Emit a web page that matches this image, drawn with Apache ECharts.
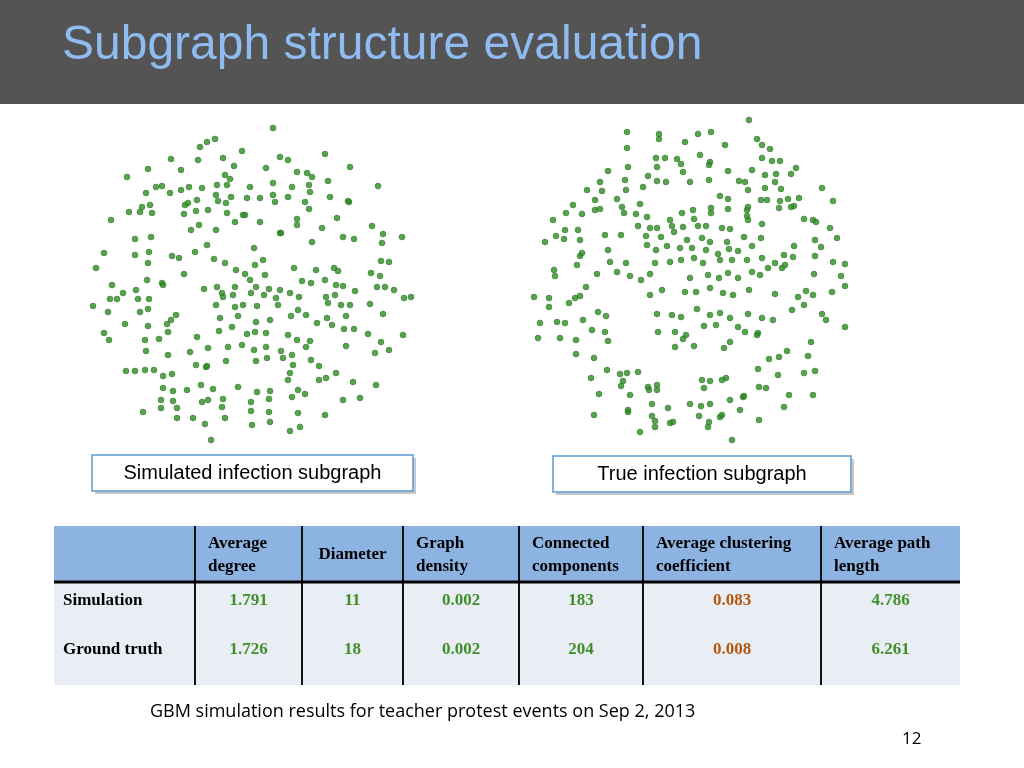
<!DOCTYPE html>
<html><head><meta charset="utf-8">
<script src="https://cdn.jsdelivr.net/npm/echarts@6/dist/echarts.min.js"></script>
<style>html,body{margin:0;padding:0;background:#fff}#main{width:1024px;height:768px}</style>
</head><body><div id="main"></div>
<script>
// node positions, in pixels inside each graph box (350 x 335)
const simNodes = [[193,13],[135,24],[127,27],[120,32],[162,36],[91,44],[118,45],[143,43],[200,42],[208,45],[245,39],[68,54],[101,55],[154,51],[186,53],[217,57],[227,58],[232,62],[270,52],[47,62],[145,60],[150,64],[76,72],[82,71],[90,78],[109,72],[122,73],[137,70],[147,70],[170,72],[193,68],[212,72],[229,70],[248,66],[298,71],[66,78],[101,75],[136,80],[151,82],[180,83],[193,80],[195,87],[208,82],[230,77],[250,82],[269,87],[62,92],[70,90],[105,90],[108,88],[117,85],[138,86],[146,88],[167,83],[225,87],[268,86],[229,94],[49,97],[60,97],[72,98],[104,99],[116,96],[128,95],[147,98],[165,100],[180,107],[217,104],[257,103],[31,105],[163,100],[155,107],[200,118],[217,110],[242,113],[292,111],[303,119],[322,122],[55,124],[71,122],[111,115],[119,110],[136,115],[127,130],[174,133],[201,118],[232,127],[263,122],[274,124],[302,128],[24,138],[55,140],[69,137],[92,141],[99,143],[115,137],[134,144],[145,148],[183,145],[175,150],[301,146],[309,147],[16,153],[68,148],[67,165],[82,168],[104,159],[156,155],[165,159],[170,165],[185,160],[214,153],[236,155],[254,153],[258,156],[291,158],[300,161],[32,170],[56,175],[83,170],[124,174],[137,172],[142,178],[155,172],[176,172],[189,174],[200,175],[222,166],[231,168],[245,165],[256,170],[263,171],[297,172],[305,172],[314,175],[43,178],[30,184],[37,184],[58,184],[69,184],[143,182],[153,180],[171,178],[184,180],[196,183],[210,178],[219,182],[246,182],[255,180],[275,176],[290,189],[324,183],[331,182],[13,191],[28,197],[60,197],[68,194],[136,190],[155,192],[163,190],[177,191],[198,190],[218,195],[248,188],[261,190],[270,190],[303,199],[45,209],[68,211],[87,209],[91,205],[96,200],[140,203],[158,201],[176,207],[190,205],[211,201],[226,200],[237,208],[247,203],[266,201],[252,210],[323,220],[24,218],[29,225],[65,225],[79,224],[88,217],[117,222],[139,216],[152,212],[167,219],[175,217],[186,218],[208,220],[217,225],[230,226],[264,214],[274,214],[288,219],[301,227],[66,236],[110,237],[128,233],[148,232],[162,230],[174,235],[186,232],[201,236],[212,240],[226,232],[266,231],[295,238],[309,235],[88,240],[116,250],[126,252],[146,246],[176,246],[187,243],[203,243],[213,250],[231,245],[239,251],[46,256],[55,256],[65,255],[74,255],[83,261],[92,259],[127,251],[210,258],[208,265],[239,265],[246,263],[256,258],[273,267],[296,270],[83,273],[93,276],[107,275],[121,270],[133,274],[158,272],[177,277],[190,276],[218,275],[225,279],[81,285],[93,286],[81,293],[122,287],[128,285],[143,284],[171,287],[189,284],[212,282],[263,285],[280,283],[97,293],[142,292],[171,296],[189,297],[218,298],[245,300],[63,297],[97,303],[113,303],[125,309],[145,303],[172,310],[190,307],[210,316],[220,312],[131,325]];
const trueNodes = [[229,10],[107,22],[139,24],[139,29],[178,24],[191,22],[165,32],[237,29],[242,35],[250,39],[107,38],[205,35],[136,48],[145,48],[157,49],[161,54],[180,45],[190,52],[242,48],[252,51],[260,51],[88,61],[108,57],[137,57],[163,62],[189,55],[208,61],[232,60],[256,64],[276,58],[128,66],[105,70],[137,71],[146,72],[170,72],[189,70],[219,71],[225,72],[245,65],[255,72],[271,64],[80,72],[67,80],[82,81],[106,80],[123,77],[200,86],[208,89],[228,80],[245,78],[261,79],[302,78],[75,90],[97,89],[102,97],[75,100],[53,95],[62,104],[104,103],[120,94],[173,100],[208,99],[227,100],[241,90],[247,90],[260,91],[268,89],[274,96],[279,88],[313,91],[46,103],[80,99],[116,104],[162,103],[191,98],[228,97],[259,98],[271,97],[227,106],[284,109],[127,107],[150,110],[174,109],[191,103],[228,110],[242,114],[293,110],[33,110],[45,120],[118,116],[130,118],[137,118],[152,116],[163,117],[178,116],[186,116],[202,118],[210,119],[296,112],[310,118],[36,126],[58,120],[60,130],[85,125],[101,125],[126,126],[141,127],[154,122],[167,130],[182,128],[190,132],[207,132],[224,127],[241,128],[25,132],[44,129],[62,143],[60,146],[127,135],[136,140],[147,136],[160,138],[172,138],[186,140],[198,144],[209,139],[218,141],[232,136],[264,145],[274,136],[295,130],[301,137],[317,128],[88,140],[90,152],[106,153],[135,153],[150,152],[161,150],[174,148],[183,153],[200,150],[212,150],[227,150],[242,148],[255,153],[265,155],[273,147],[295,146],[313,152],[325,154],[34,160],[57,155],[77,164],[97,162],[110,166],[121,170],[130,164],[170,168],[188,165],[199,168],[208,163],[218,168],[232,162],[240,165],[248,158],[262,158],[294,164],[321,166],[35,166],[14,187],[29,188],[49,193],[55,188],[60,186],[66,177],[130,185],[142,180],[165,182],[176,182],[190,178],[203,183],[213,185],[229,180],[255,184],[286,181],[278,187],[293,185],[284,195],[312,182],[325,176],[29,197],[20,213],[37,212],[45,213],[63,210],[78,202],[86,206],[137,204],[152,205],[161,207],[177,199],[190,205],[200,203],[210,208],[228,204],[242,208],[253,210],[272,200],[302,204],[306,210],[18,228],[40,228],[56,230],[72,220],[85,222],[138,222],[155,222],[166,225],[184,216],[196,215],[218,217],[225,222],[238,223],[291,232],[325,217],[56,244],[88,231],[155,237],[163,229],[174,236],[204,238],[210,232],[237,225],[249,249],[259,247],[267,241],[288,246],[74,248],[87,260],[107,263],[118,262],[100,264],[103,271],[128,277],[137,275],[182,270],[206,268],[238,259],[258,265],[284,263],[295,261],[71,268],[101,276],[79,284],[110,285],[129,280],[137,280],[184,278],[190,271],[202,270],[223,287],[239,277],[246,278],[269,285],[293,285],[108,302],[132,294],[148,298],[170,294],[181,296],[190,294],[210,290],[224,286],[264,297],[74,305],[108,300],[132,306],[135,311],[150,313],[179,306],[189,312],[200,307],[220,300],[239,310],[135,317],[153,312],[188,317],[202,305],[120,322],[212,330]];

const headers = ['Average\ndegree', 'Diameter', 'Graph\ndensity', 'Connected\ncomponents', 'Average clustering\ncoefficient', 'Average path\nlength'];
const rowNames = ['Simulation', 'Ground truth'];
const simRow = ['1.791', '11', '0.002', '183', '0.083', '4.786'];
const truthRow = ['1.726', '18', '0.002', '204', '0.008', '6.261'];

const chart = echarts.init(document.getElementById('main'));

const colX = [54, 195, 302, 403, 519, 643, 821, 960];
const serif = 'Liberation Serif, Times New Roman, serif';
const g = [];
// title bar
g.push({type: 'rect', shape: {x: 0, y: 0, width: 1024, height: 104}, style: {fill: '#545454'}});
g.push({type: 'text', left: 62, top: 22, style: {text: 'Subgraph structure evaluation', font: '48px Liberation Sans, Arial', fill: '#8fbbf0'}});
// caption boxes
[[92, 455, 321, 'Simulated infection subgraph'], [553, 456, 298, 'True infection subgraph']].forEach(([x, y, w, t]) => {
  g.push({type: 'rect', shape: {x: x + 3, y: y + 3, width: w, height: 36}, style: {fill: '#c8c8c8'}});
  g.push({type: 'rect', shape: {x: x, y: y, width: w, height: 36}, style: {fill: '#fff', stroke: '#5b9bd5', lineWidth: 1.5}});
  g.push({type: 'text', x: x + w / 2, y: y + 18, style: {text: t, font: '20px Liberation Sans, Arial', fill: '#000', align: 'center', verticalAlign: 'middle'}});
});
// table
g.push({type: 'rect', shape: {x: 54, y: 526, width: 906, height: 56}, style: {fill: '#8db3e2'}});
g.push({type: 'rect', shape: {x: 54, y: 582, width: 906, height: 103}, style: {fill: '#e9edf4'}});
for (let i = 1; i < colX.length - 1; i++) {
  g.push({type: 'line', shape: {x1: colX[i], y1: 526, x2: colX[i], y2: 685}, style: {stroke: '#111', lineWidth: 2}});
}
g.push({type: 'line', shape: {x1: 54, y1: 582, x2: 960, y2: 582}, style: {stroke: '#000', lineWidth: 3}});
headers.forEach((h, i) => {
  const one = h.indexOf('\n') < 0;
  g.push({type: 'text', x: one ? (colX[i + 1] + colX[i + 2]) / 2 : colX[i + 1] + 13, y: 555,
    style: {text: h, font: 'bold 17px ' + serif, fill: '#000', align: one ? 'center' : 'left', verticalAlign: 'middle', lineHeight: 23}});
});
[simRow, truthRow].forEach((row, r) => {
  const y = r ? 650 : 601;
  g.push({type: 'text', x: 63, y: y, style: {text: rowNames[r], font: 'bold 17px ' + serif, fill: '#000', verticalAlign: 'middle'}});
  row.forEach((v, i) => {
    g.push({type: 'text', x: (colX[i + 1] + colX[i + 2]) / 2, y: y,
      style: {text: v, font: 'bold 17px ' + serif, fill: i === 4 ? '#b3560f' : '#3f8f2a', align: 'center', verticalAlign: 'middle'}});
  });
});
g.push({type: 'text', left: 150, top: 703, style: {text: 'GBM simulation results for teacher protest events on Sep 2, 2013', font: '18px Open Sans, Noto Sans', fill: '#000'}});
g.push({type: 'text', left: 902, top: 731, style: {text: '12', font: '17px Open Sans, Noto Sans', fill: '#000'}});

const axisOff = (idx, max, inv) => ({gridIndex: idx, type: 'value', min: 0, max: max, inverse: inv, show: false});
chart.setOption({
  animation: false,
  grid: [
    {left: 80, top: 115, width: 350, height: 335},
    {left: 520, top: 110, width: 350, height: 335}
  ],
  xAxis: [axisOff(0, 350, false), axisOff(1, 350, false)],
  yAxis: [axisOff(0, 335, true), axisOff(1, 335, true)],
  graphic: g,
  series: [
    {type: 'scatter', xAxisIndex: 0, yAxisIndex: 0, data: simNodes, symbolSize: 6,
      itemStyle: {color: '#2e8b24', borderColor: '#1f6a18', borderWidth: 0.5}},
    {type: 'scatter', xAxisIndex: 1, yAxisIndex: 1, data: trueNodes, symbolSize: 6,
      itemStyle: {color: '#2e8b24', borderColor: '#1f6a18', borderWidth: 0.5}}
  ]
});
</script></body></html>
